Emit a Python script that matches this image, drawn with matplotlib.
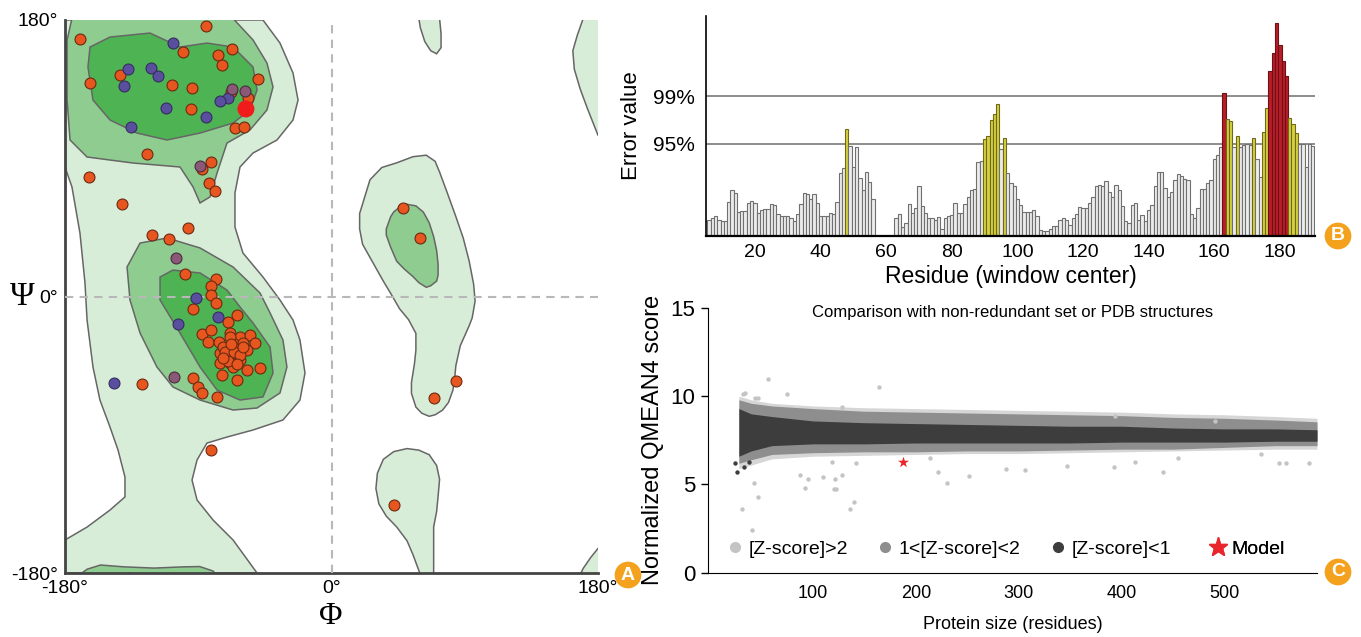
import numpy as np
import matplotlib
matplotlib.use("Agg")
import matplotlib.pyplot as plt
from matplotlib.lines import Line2D

plt.rcParams['font.family'] = ['Liberation Sans', 'DejaVu Sans']

# ---------------- Panel A: Ramachandran plot (phi, psi in degrees) ----------------
light_regions = [
    [(-180, 180), (-46.3, 180), (-34.8, 165.0), (-26.0, 145.5), (-22.6, 127.9), (-26.0, 114.9),
     (-36.8, 101.9), (-53.0, 93.4), (-61.8, 84.3), (-65.2, 67.4), (-65.2, 45.2), (-59.8, 28.3),
     (-46.3, 12.7), (-34.8, -2.3), (-26.0, -15.3), (-21.3, -28.3), (-17.9, -49.8), (-21.3, -67.4),
     (-32.8, -80.4), (-53.0, -86.9), (-70.6, -91.5), (-84.1, -95.4), (-90.8, -106.4), (-94.2, -119.5),
     (-90.8, -132.5), (-80.0, -145.5), (-66.5, -158.5), (-50.3, -180), (-180, -180), (-180, -158.5),
     (-165.1, -150.1), (-149.6, -139.0), (-139.5, -130.5), (-139.5, -117.5), (-144.2, -99.9),
     (-149.6, -85.0), (-156.4, -67.4), (-161.1, -45.9), (-165.1, -15.3), (-166.5, 8.8),
     (-169.9, 41.3), (-175.3, 71.3), (-180, 84.3)],
    [(59, 181), (60, 175), (63, 166), (67, 160), (71, 158), (74, 162), (74, 171), (73, 181)],
    [(170, 181), (166, 170), (163, 160), (164, 148), (168, 135), (173, 122), (180, 105), (181, 105), (181, 181)],
    [(19, 54), (26, 76), (34, 84), (44, 87), (55, 91), (64, 92), (70, 88), (73, 81), (78, 68), (84, 52),
     (89, 38), (93, 23), (96, 8), (97, -3), (95, -14), (93, -19), (87, -32), (84, -45), (83, -55),
     (82, -61), (79, -69), (75, -74), (70, -77), (66, -78), (61, -76), (57, -72), (54, -63), (54, -56),
     (56, -44), (57, -35), (57, -24), (52, -15), (46, -8), (40, 2), (35, 10), (28, 22), (21, 34), (19, 44)],
    [(30, -125), (31, -115), (35, -106), (42, -101), (51, -99), (59, -100), (66, -103), (71, -110),
     (73, -119), (72, -130), (71, -140), (69, -150), (69, -160), (69, -181), (60, -181), (55, -168),
     (51, -159), (44, -150), (37, -143), (32, -135)],
    [(181, -164), (180, -164), (175, -170), (170, -177), (168, -181), (181, -181)],
]
medium_regions = [
    [(-175.3, 181), (-66.5, 181), (-53.0, 167.0), (-43.6, 152.0), (-39.5, 136.4), (-43.6, 121.4),
     (-55.1, 108.4), (-70.6, 99.9), (-77.3, 80.4), (-82.1, 64.8), (-88.8, 60.9), (-93.5, 71.3),
     (-102.3, 84.3), (-134.1, 86.9), (-165.1, 90.8), (-176.6, 101.9), (-178.6, 127.9), (-178.6, 167)],
    [(-138.1, 19.2), (-129.3, 34.8), (-111.1, 38.1), (-88.8, 31.6), (-66.5, 19.2), (-48.3, 2.3),
     (-41.5, -10.7), (-32.8, -28.3), (-30.1, -45.9), (-34.8, -62.8), (-50.3, -72.6), (-66.5, -73.9),
     (-88.8, -67.4), (-107.1, -58.9), (-117.9, -45.9), (-129.3, -23.8), (-136.1, -2.3)],
    [(-170, -181), (-165, -177.5), (-156, -174.8), (-140, -176), (-120, -176.8), (-100, -176),
     (-89, -175.8), (-80, -178.7), (-78, -181)],
    [(37, 44), (40, 52), (42, 55), (47, 59), (51, 60), (57, 59), (62, 55), (66, 48), (69, 39), (71, 30),
     (72, 21), (72, 14), (71, 10), (67, 7), (64, 6), (59, 9), (55, 13), (49, 18), (44, 23), (40, 32), (37, 40)],
]
dark_regions = [
    [(-163.1, 162.4), (-149.6, 168.9), (-122.6, 171.5), (-102.3, 162.4), (-84.1, 165.0), (-66.5, 162.4),
     (-53.0, 149.4), (-50.3, 134.4), (-55.1, 121.4), (-66.5, 112.9), (-88.8, 106.4), (-111.1, 101.9),
     (-131.4, 106.4), (-149.6, 114.9), (-161.1, 127.9), (-164.5, 149.4)],
    [(-115.8, 12.7), (-107.1, 17.2), (-88.8, 15.3), (-70.6, 4.2), (-61.8, -6.8), (-53.0, -17.3),
     (-41.5, -32.9), (-39.5, -49.8), (-46.3, -65.4), (-61.8, -67.4), (-77.3, -60.9), (-88.8, -45.9),
     (-102.3, -23.8), (-115.8, -2.3)],
]

orange_phi = [-169.9, -84.8, -100.3, -76.7, -67.2, -74.0, -142.9, -163.1, -107.7, -94.2, -49.6, -67.9,
              -56.4, -94.9, -65.2, -59.1, -124.6, -81.4, -87.5, -82.7, -78.7, -163.8, -141.5, -121.2,
              -109.8, -96.9, -99.0, -78.0, -81.4, -81.4, -78.0, -93.5, -63.8, -69.9, -87.5, -81.4, -83.4,
              -76.0, -68.6, -61.8, -55.0, -51.7, -66.5, -59.8, -70.6, -63.8, -75.3, -66.5, -68.6, -61.8,
              -75.3, -66.5, -57.1, -48.3, -74.0, -63.8, -93.5, -90.2, -87.5, -77.3, -128.0, -81.4, -69.9,
              -73.3, -66.5, -57.1, -68.6, -72.0, -66.0, -70.0, -62.0, -68.0, -64.0, -73.0, -60.0,
              48, 60, 84, 69, 42]
orange_psi = [167.6, 176.1, 159.2, 157.2, 161.1, 150.7, 144.2, 139.0, 137.7, 135.7, 141.6, 133.1,
              129.2, 122.1, 109.7, 110.3, 92.8, 87.6, 83.0, 73.9, 68.7, 77.8, 60.2, 40.0,
              37.4, 44.6, 14.6, 11.4, 6.8, 1.0, -4.2, -8.1, -12.0, -16.6, -24.4, -21.8, -29.6,
              -29.6, -23.8, -26.4, -25.1, -30.3, -30.3, -30.3, -34.8, -34.8, -36.8, -39.4, -43.3, -41.3,
              -43.3, -45.9, -47.9, -46.5, -51.1, -54.4, -53.1, -58.9, -62.8, -65.4, -57.0, -99.9, -39.4,
              -32.9, -32.9, -34.8, -26.4, -36.0, -36.0, -42.0, -38.0, -31.0, -44.0, -40.0, -33.0,
              57.5, 38, -55, -66, -136]
purple_phi = [-107.1, -137.4, -121.9, -117.2, -140.2, -69.9, -75.3, -111.8, -84.8, -135.4,
              -91.5, -76.7, -103.7, -146.9]
purple_psi = [165.0, 148.1, 148.8, 143.5, 137.0, 129.2, 127.3, 122.7, 116.9, 110.3,
              -1.0, -13.3, -17.9, -56.3]
mauve_phi = [-58.4, -67.2, -105.0, -88.8, -106.4]
mauve_psi = [133.8, 135.1, 25.1, 85.0, -52.4]
highlight_phi = [-57.8]
highlight_psi = [122.1]

# ---------------- Panel B: ERRAT error values per residue ----------------
first_residue = 5
error_values = [
    1.8, 2.0, 2.2, 2.4, 2.0, 1.85, 1.85,
    4.2, 5.7, 5.3, 3.0, 3.1, 3.1, 4.1, 4.3, 4.0,
    2.8, 3.2, 3.3, 3.3, 3.9, 3.8, 2.7, 2.4, 2.4, 2.4,
    2.2, 1.8, 2.7, 3.9, 5.3, 5.2, 4.5, 5.2, 4.1, 2.5,
    2.5, 2.4, 2.8, 2.7, 4.2, 7.7, 8.4, 13.2, 11.1, 8.5,
    11.0, 7.1, 5.6, 7.9, 6.6, 4.5,
    None, None, None, None, None, None,
    2.2, 2.7, 1.15, 1.6, 3.9, 2.8, 3.4, 6.1, 3.7, 2.8, 2.2, 2.2, 2.0, 2.3, 0.8, 2.2, 2.5, 2.6,
    4.1, 2.8, 2.8, 3.9, 4.8, 5.7, 5.8, 9.1, 9.2,
    11.9, 12.3, 14.3, 15.0, 16.2, 10.7, 12.0,
    7.7, 6.5, 6.1, 4.6, 3.8, 3.0, 2.9, 3.0, 3.2, 2.4,
    0.7, 0.66, 0.66, 0.9, 1.2, 1.2, 2.0, 2.2, 2.0, 1.4,
    2.25, 2.7, 3.6, 3.5, 3.5, 4.1, 4.75, 6.1, 6.3, 6.1,
    6.8, 5.45, 4.75, 6.3, 5.7, 3.7, 1.8, 1.6, 3.8, 4.1,
    2.0, 2.6, 1.8, 3.2, 3.8, 6.1, 7.9, 7.9, 5.9, 4.8,
    5.45, 6.9, 7.6, 7.4, 7.0, 6.9, 2.7, 2.2, 3.4, 5.8,
    5.8, 6.5, 6.9, 9.5, 10.0, 10.9, 17.6,
    14.4, 14.1, 11.0, 12.3, 11.0, 11.2, 11.3, 11.2, 12.0, 9.5, 7.3, 12.8, 15.7,
    20.3, 22.5, 26.2, 23.5, 21.5, 19.7,
    14.5, 13.8, 12.7,
    11.3, 11.3, 8.5, 11.3, 11.1,
]
limit_95 = 11.36
limit_99 = 17.19
residue_ticks = [20, 40, 60, 80, 100, 120, 140, 160, 180]

# ---------------- Panel C: QMEAN4 vs protein size ----------------
band_size = [28, 40, 60, 100, 150, 200, 250, 300, 350, 400, 450, 500, 550, 590]
light_hi = [10.0, 9.8, 9.6, 9.45, 9.35, 9.3, 9.25, 9.2, 9.15, 9.1, 9.0, 8.95, 8.85, 8.75]
light_lo = [5.9, 6.1, 6.45, 6.6, 6.65, 6.7, 6.75, 6.75, 6.8, 6.85, 6.9, 6.95, 7.0, 7.0]
mid_hi = [9.8, 9.6, 9.45, 9.3, 9.15, 9.1, 9.05, 9.0, 8.95, 8.9, 8.8, 8.75, 8.65, 8.55]
mid_lo = [6.2, 6.4, 6.7, 6.8, 6.85, 6.85, 6.9, 6.9, 6.95, 7.0, 7.0, 7.1, 7.2, 7.2]
dark_hi = [9.3, 9.0, 8.85, 8.6, 8.5, 8.45, 8.4, 8.35, 8.3, 8.3, 8.2, 8.15, 8.15, 8.1]
dark_lo = [6.6, 6.9, 7.2, 7.3, 7.3, 7.35, 7.35, 7.35, 7.35, 7.4, 7.4, 7.4, 7.45, 7.45]
outlier_size = [56, 164, 31, 41, 47, 43, 92, 120, 122, 136, 140, 128, 87, 95, 110, 121, 142, 222, 252,
                230, 214, 32, 34, 44, 47, 75, 128, 394, 491, 553, 582, 347, 306, 393, 413, 455, 536,
                119, 288, 440, 560]
outlier_score = [11.0, 10.5, 3.6, 2.4, 4.3, 5.1, 4.8, 4.75, 4.75, 3.6, 4.0, 5.55, 5.55, 5.3, 5.4, 5.3,
                 6.2, 5.7, 5.5, 5.1, 6.5, 10.1, 10.2, 9.9, 9.9, 10.15, 9.4, 8.9, 8.6, 6.2, 6.2, 6.05,
                 5.8, 6.0, 6.3, 6.5, 6.7, 6.3, 5.9, 5.7, 6.2]
dark_size = [26, 24, 33, 38]
dark_score = [5.7, 6.2, 6.0, 6.3]
model_size = [188]
model_score = [6.3]

W, H = 1361, 637
fig = plt.figure(figsize=(W / 100, H / 100), dpi=100)

def box(l, t, r, b):
    return [l / W, 1 - b / H, (r - l) / W, (b - t) / H]

# ---- A ----
axA = fig.add_axes(box(65, 20, 598, 573))
edge = '#666666'
for reg in light_regions:
    p = np.array(reg)
    axA.fill(p[:, 0], p[:, 1], fc='#d8edd7', ec=edge, lw=1.1, zorder=1)
for reg in medium_regions:
    p = np.array(reg)
    axA.fill(p[:, 0], p[:, 1], fc='#8fcc90', ec=edge, lw=1.1, zorder=2)
for reg in dark_regions:
    p = np.array(reg)
    axA.fill(p[:, 0], p[:, 1], fc='#4eb352', ec=edge, lw=1.1, zorder=3)
axA.axhline(0, color='#b8b8b8', lw=1.5, ls=(0, (4, 3)), zorder=4)
axA.axvline(0, color='#b8b8b8', lw=1.5, ls=(0, (4, 3)), zorder=4)
axA.scatter(orange_phi, orange_psi, s=62, c='#e8561f', edgecolors='#6b2a12', linewidths=0.8, zorder=5)
axA.scatter(purple_phi, purple_psi, s=62, c='#5a4f9e', edgecolors='#352d60', linewidths=0.8, zorder=5)
axA.scatter(mauve_phi, mauve_psi, s=62, c='#8b5878', edgecolors='#4a2c40', linewidths=0.8, zorder=5)
axA.scatter(highlight_phi, highlight_psi, s=150, c='#f01c1c', edgecolors='none', zorder=6)
axA.set_xlim(-180, 180)
axA.set_ylim(-180, 180)
for s in ['top', 'right']:
    axA.spines[s].set_visible(False)
for s in ['left', 'bottom']:
    axA.spines[s].set_color('#444444')
    axA.spines[s].set_linewidth(2)
axA.set_xticks([-180, 0, 180], ['-180°', '0°', '180°'])
axA.set_yticks([-180, 0, 180], ['-180°', '0°', '180°'])
axA.tick_params(length=0, labelsize=14, pad=5)
fig.text(22 / W, 1 - 297 / H, 'Ψ', family='Liberation Serif', fontsize=24, ha='center', va='center')
fig.text(331 / W, 1 - 616 / H, 'Φ', family='Liberation Serif', fontsize=23, ha='center', va='center')

# ---- B ----
axB = fig.add_axes(box(706, 16, 1315, 236))
for i, v in enumerate(error_values):
    if v is None:
        continue
    if v > limit_99:
        fc, ec = '#b81e28', '#6e1016'
    elif v > limit_95:
        fc, ec = '#d6d03e', '#6e6a1c'
    else:
        fc, ec = '#ececec', '#707070'
    axB.bar(first_residue + i, v, width=1.0, color=fc, edgecolor=ec, linewidth=0.8, zorder=2)
axB.axhline(limit_95, color='#7a7a7a', lw=1.2, zorder=1)
axB.axhline(limit_99, color='#7a7a7a', lw=1.2, zorder=1)
axB.set_xlim(5.07, 190.7)
axB.set_ylim(0, 27.06)
axB.set_yticks([limit_95, limit_99], ['95%', '99%'])
axB.set_xticks(residue_ticks)
axB.tick_params(length=0, labelsize=14, pad=6)
axB.tick_params(axis='y', labelsize=15, pad=8)
for s in ['top', 'right']:
    axB.spines[s].set_visible(False)
axB.spines['left'].set_linewidth(1.2)
axB.spines['bottom'].set_linewidth(1.6)
axB.set_ylabel('Error value', fontsize=16, labelpad=8)
axB.set_xlabel('Residue (window center)', fontsize=16.5, labelpad=3)

# ---- C ----
axC = fig.add_axes(box(708, 308, 1317, 572.7))
axC.fill_between(band_size, light_lo, light_hi, color='#d6d6d6', lw=0, zorder=1)
axC.fill_between(band_size, mid_lo, mid_hi, color='#8e8e8e', lw=0, zorder=2)
axC.fill_between(band_size, dark_lo, dark_hi, color='#3d3d3d', lw=0, zorder=3)
axC.scatter(outlier_size, outlier_score, s=10, c='#c4c4c4', lw=0, zorder=2)
axC.scatter(dark_size, dark_score, s=10, c='#3d3d3d', lw=0, zorder=3)
axC.scatter(model_size, model_score, s=70, marker='*', c='#e8262c', lw=0, zorder=5)
axC.set_xlim(-2, 590)
axC.set_ylim(0, 15)
axC.set_xticks([100, 200, 300, 400, 500])
axC.set_yticks([0, 5, 10, 15])
axC.tick_params(axis='x', length=0, labelsize=13, pad=9)
axC.tick_params(axis='y', length=5, width=1, labelsize=16, pad=4)
for s in ['top', 'right']:
    axC.spines[s].set_visible(False)
axC.set_ylabel('Normalized QMEAN4 score', fontsize=17, labelpad=5)
axC.set_xlabel('Protein size (residues)', fontsize=13, labelpad=10)
axC.text(0.5, 1.01, 'Comparison with non-redundant set or PDB structures', transform=axC.transAxes,
         ha='center', va='top', fontsize=12)
legend_items = [
    (Line2D([], [], marker='o', ls='', color='#c4c4c4', markersize=7), '[Z-score]>2', 0.025),
    (Line2D([], [], marker='o', ls='', color='#8e8e8e', markersize=7), '1<[Z-score]<2', 0.272),
    (Line2D([], [], marker='o', ls='', color='#3d3d3d', markersize=7), '[Z-score]<1', 0.555),
    (Line2D([], [], marker='*', ls='', color='#e8262c', markersize=14), 'Model', 0.818),
]
for h, lab, xpos in legend_items:
    leg = axC.legend([h], [lab], loc='center left', bbox_to_anchor=(xpos, 0.09), frameon=False,
                     fontsize=14, handletextpad=0.1, handlelength=1.2, borderaxespad=0, borderpad=0)
    axC.add_artist(leg)

# ---- panel tags ----
for tag, x, y in [('A', 628, 575), ('B', 1338, 236), ('C', 1338, 572)]:
    fig.text(x / W, 1 - y / H, tag, ha='center', va='center', color='white', fontsize=14,
             fontweight='bold',
             bbox=dict(boxstyle='circle,pad=0.25', fc='#f4a21d', ec='none'))

fig.savefig('out.png', dpi=100)
